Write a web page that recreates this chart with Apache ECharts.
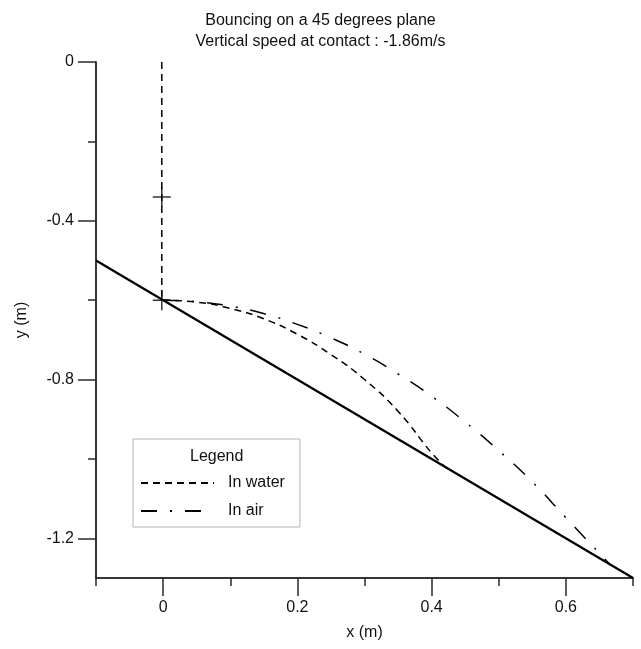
<!DOCTYPE html>
<html>
<head>
<meta charset="utf-8">
<script src="https://cdn.jsdelivr.net/npm/echarts@6/dist/echarts.min.js"></script>
<style>
    html, body { margin: 0; padding: 0; background: #fff; }
    #chart { width: 641px; height: 649px; }
</style>
</head>
<body>
<div id="chart"></div>
<script>
(function () {
    // inclined plane (45 degrees in data units)
    var planeX = [-0.1, 0.7];
    var planeY = [-0.5, -1.3];
    // vertical drop before contact
    var dropX = [-0.002, -0.002];
    var dropY = [0, -0.6];
    // crosses: release point and contact point
    var crossX = [-0.002, -0.002];
    var crossY = [-0.34, -0.6];
    // trajectory after bounce, in water
    var waterX = [0, 0.05, 0.1, 0.15, 0.2, 0.25, 0.3, 0.35, 0.4, 0.42];
    var waterY = [-0.6, -0.605, -0.621, -0.647, -0.686, -0.737, -0.8, -0.88, -0.985, -1.02];
    // trajectory after bounce, in air
    var airX = [0, 0.05, 0.1, 0.15, 0.2, 0.25, 0.3, 0.35, 0.4, 0.45, 0.5, 0.55, 0.6, 0.665];
    var airY = [-0.6, -0.604, -0.615, -0.634, -0.661, -0.695, -0.736, -0.786, -0.842, -0.907, -0.979, -1.058, -1.148, -1.265];
    // ticks
    var xMajorTicks = [0, 0.2, 0.4, 0.6];
    var xMinorTicks = [-0.1, 0.1, 0.3, 0.5, 0.7];
    var yMajorTicks = [0, -0.4, -0.8, -1.2];
    var yMinorTicks = [-0.2, -0.6, -1.0];

    var font = 'Arial, "Liberation Sans", sans-serif';
    var axisColor = '#2a2a2a';

    var pairs = function (xs, ys) {
        var out = [];
        for (var i = 0; i < xs.length; i++) {
            out.push([xs[i], ys[i]]);
        }
        return out;
    };

    var chart = echarts.init(document.getElementById('chart'));
    var option = {
        animation: false,
        backgroundColor: '#fff',
        title: {
            text: 'Bouncing on a 45 degrees plane\nVertical speed at contact : -1.86m/s',
            left: 'center',
            top: 5,
            textStyle: {
                fontFamily: font,
                fontSize: 16,
                fontWeight: 'normal',
                color: '#111',
                lineHeight: 21
            }
        },
        grid: {
            left: 96,
            right: 8,
            top: 62,
            bottom: 71
        },
        legend: {
            orient: 'vertical',
            left: 133,
            top: 439,
            padding: [36, 15, 8, 7],
            borderColor: '#b5b5b5',
            borderWidth: 1,
            itemWidth: 73,
            itemHeight: 14,
            itemGap: 12,
            itemStyle: { opacity: 0 },
            data: ['In water', 'In air'],
            textStyle: {
                fontFamily: font,
                fontSize: 16,
                color: '#111',
                padding: [0, 0, 0, 9]
            }
        },
        graphic: [{
            type: 'text',
            left: 190,
            top: 449,
            style: {
                text: 'Legend',
                font: '16px ' + font,
                fill: '#111'
            }
        }],
        xAxis: [{
            type: 'value',
            min: -0.1,
            max: 0.7,
            name: 'x (m)',
            nameLocation: 'middle',
            nameGap: 47,
            nameTextStyle: { fontFamily: font, fontSize: 16, color: '#111' },
            splitLine: { show: false },
            axisLine: { show: true, onZero: false, lineStyle: { color: axisColor, width: 1.5 } },
            axisTick: { show: true, length: 18, customValues: xMajorTicks, lineStyle: { color: axisColor, width: 1.5 } },
            axisLabel: { customValues: xMajorTicks, margin: 22, fontFamily: font, fontSize: 16, color: '#111' }
        }, {
            type: 'value',
            min: -0.1,
            max: 0.7,
            position: 'bottom',
            splitLine: { show: false },
            axisLine: { show: true, onZero: false, lineStyle: { color: axisColor, width: 1.5 } },
            axisTick: { show: true, length: 8, customValues: xMinorTicks, lineStyle: { color: axisColor, width: 1.5 } },
            axisLabel: { show: false }
        }],
        yAxis: [{
            type: 'value',
            min: -1.3,
            max: 0,
            name: 'y (m)',
            nameLocation: 'middle',
            nameGap: 66,
            nameTextStyle: { fontFamily: font, fontSize: 16, color: '#111' },
            splitLine: { show: false },
            axisLine: { show: true, onZero: false, lineStyle: { color: axisColor, width: 1.5 } },
            axisTick: { show: true, length: 18, customValues: yMajorTicks, lineStyle: { color: axisColor, width: 1.5 } },
            axisLabel: { customValues: yMajorTicks, margin: 22, fontFamily: font, fontSize: 16, color: '#111' }
        }, {
            type: 'value',
            min: -1.3,
            max: 0,
            position: 'left',
            splitLine: { show: false },
            axisLine: { show: true, onZero: false, lineStyle: { color: axisColor, width: 1.5 } },
            axisTick: { show: true, length: 8, customValues: yMinorTicks, lineStyle: { color: axisColor, width: 1.5 } },
            axisLabel: { show: false }
        }],
        series: [{
            name: 'plane',
            type: 'line',
            data: pairs(planeX, planeY),
            symbol: 'none',
            lineStyle: { color: '#000', width: 2.2 }
        }, {
            name: 'drop',
            type: 'line',
            data: pairs(dropX, dropY),
            symbol: 'none',
            lineStyle: { color: '#000', width: 1.5, type: [7, 5] }
        }, {
            name: 'In water',
            type: 'line',
            data: pairs(waterX, waterY),
            symbol: 'none',
            smooth: true,
            color: '#000',
            lineStyle: { color: '#000', width: 1.5, type: [7, 5] }
        }, {
            name: 'In air',
            type: 'line',
            data: pairs(airX, airY),
            symbol: 'none',
            smooth: true,
            color: '#000',
            lineStyle: { color: '#000', width: 1.5, type: [16, 13, 2, 13] }
        }, {
            name: 'cross',
            type: 'scatter',
            data: pairs(crossX, crossY),
            symbol: 'path://M0,9.25h18v1.5h-18z M8.25,0h1.5v20h-1.5z',
            symbolSize: [18, 20],
            itemStyle: { color: '#000' }
        }]
    };
    chart.setOption(option);

    window.addEventListener('resize', function () {
        chart.resize();
    });
})();
</script>
</body>
</html>
